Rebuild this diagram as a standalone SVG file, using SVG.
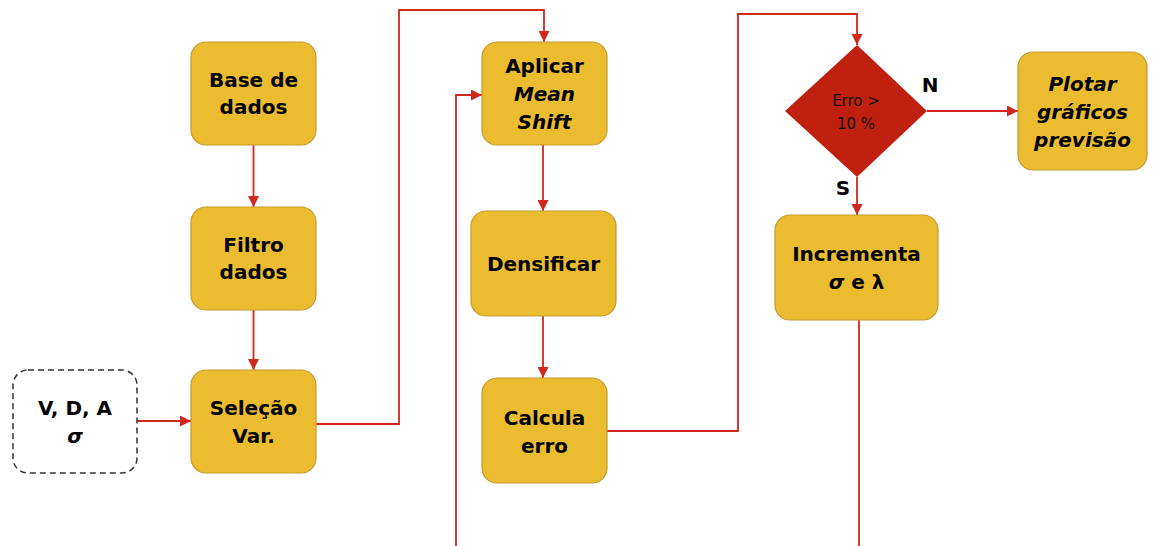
<svg xmlns="http://www.w3.org/2000/svg" width="1161" height="546" viewBox="0 0 1161 546">
<defs>
<marker id="arr" viewBox="0 0 10 10" refX="10" refY="5" markerWidth="11" markerHeight="11" markerUnits="userSpaceOnUse" orient="auto">
<path d="M0,0 L10,5 L0,10 z" fill="#d0281e"/>
</marker>
<style>
.box{fill:#ebbc30;stroke:#c29a2e;stroke-width:1.2}
.dash{fill:#fff;stroke:#333;stroke-width:1.5;stroke-dasharray:6,4}
.t{font-family:"DejaVu Sans","Liberation Sans",sans-serif;font-weight:bold;font-size:20px;fill:#000;text-anchor:middle}
.i{font-style:italic}
.s{font-family:"DejaVu Sans","Liberation Sans",sans-serif;font-size:15px;fill:#111;text-anchor:middle}
.c{fill:none;stroke:#d0281e;stroke-width:1.8}
</style>
</defs>
<rect width="1161" height="546" fill="#fff"/>
<g id="connectors">
<path class="c" d="M253.5,145 V207" marker-end="url(#arr)"/>
<path class="c" d="M253.5,310 V370" marker-end="url(#arr)"/>
<path class="c" d="M137,421 H191" marker-end="url(#arr)"/>
<path class="c" d="M316,424 H399 V10 H544 V42" marker-end="url(#arr)"/>
<path class="c" d="M543,145 V211" marker-end="url(#arr)"/>
<path class="c" d="M543,316 V378" marker-end="url(#arr)"/>
<path class="c" d="M607,431 H738 V14 H857 V45" marker-end="url(#arr)"/>
<path class="c" d="M927,111 H1018" marker-end="url(#arr)"/>
<path class="c" d="M857,177 V215" marker-end="url(#arr)"/>
<path class="c" d="M859,320 V548 H456 V95 H482" marker-end="url(#arr)"/>
</g>
<g id="vda">
<rect class="dash" x="13" y="370" width="124" height="103" rx="15"/>
<text class="t" x="75" y="415">V, D, A</text>
<text class="t i" x="75" y="443">σ</text>
</g>
<g id="base">
<rect class="box" x="191" y="42" width="125" height="103" rx="15"/>
<text class="t" x="253.5" y="87">Base de</text>
<text class="t" x="253.5" y="114">dados</text>
</g>
<g id="filtro">
<rect class="box" x="191" y="207" width="125" height="103" rx="15"/>
<text class="t" x="253.5" y="252">Filtro</text>
<text class="t" x="253.5" y="279">dados</text>
</g>
<g id="selecao">
<rect class="box" x="191" y="370" width="125" height="103" rx="15"/>
<text class="t" x="253.5" y="415">Seleção</text>
<text class="t" x="253.5" y="443">Var.</text>
</g>
<g id="aplicar">
<rect class="box" x="482" y="42" width="125" height="103" rx="15"/>
<text class="t" x="544.5" y="73">Aplicar</text>
<text class="t i" x="544.5" y="101">Mean</text>
<text class="t i" x="544.5" y="129">Shift</text>
</g>
<g id="densificar">
<rect class="box" x="471" y="211" width="145" height="105" rx="15"/>
<text class="t" x="543.5" y="271">Densificar</text>
</g>
<g id="calcula">
<rect class="box" x="482" y="378" width="125" height="105" rx="15"/>
<text class="t" x="544.5" y="425">Calcula</text>
<text class="t" x="544.5" y="453">erro</text>
</g>
<g id="decisao">
<polygon points="857,45 927,111 857,177 785,111" fill="#c0200f"/>
<text class="s" x="856" y="106">Erro &gt;</text>
<text class="s" x="856" y="129">10 %</text>
<text class="t" x="930" y="92">N</text>
<text class="t" x="843" y="195">S</text>
</g>
<g id="plotar">
<rect class="box" x="1018" y="52" width="129" height="118" rx="15"/>
<text class="t i" x="1082.5" y="91">Plotar</text>
<text class="t i" x="1082.5" y="119">gráficos</text>
<text class="t i" x="1082.5" y="147">previsão</text>
</g>
<g id="incrementa">
<rect class="box" x="775" y="215" width="163" height="105" rx="15"/>
<text class="t" x="856.5" y="261">Incrementa</text>
<text class="t" x="856.5" y="289"><tspan class="i">σ</tspan> e λ</text>
</g>
</svg>
